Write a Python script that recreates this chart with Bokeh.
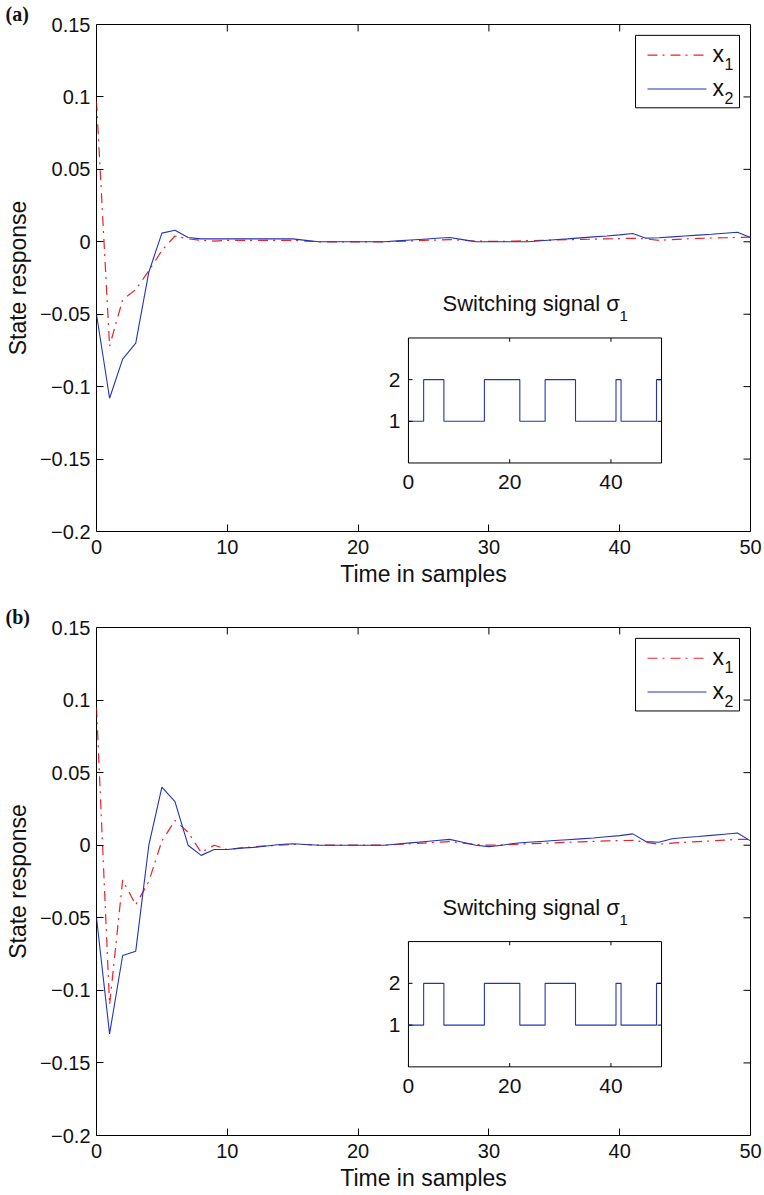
import numpy as np
from bokeh.plotting import figure
from bokeh.models import Range1d, FixedTicker
from bokeh.layouts import column
from bokeh.embed import file_html
from bokeh.resources import INLINE
from bokeh.core.properties import value

# ---------------- data ----------------
t = list(range(51))

x1_a = [0.097, -0.072, -0.040, -0.033, -0.020, -0.006, 0.004, 0.002, 0.001, 0.0005,
        0.001, 0.001, 0.001, 0.001, 0.001, 0.001, 0.0005, 0.0, 0.0, 0.0,
        0.0, 0.0, 0.0, 0.0003, 0.0006, 0.001, 0.0012, 0.0015, 0.001, 0.0005,
        0.0003, 0.0003, 0.0005, 0.0008, 0.001, 0.0012, 0.0014, 0.0016, 0.0018, 0.002,
        0.0022, 0.0024, 0.002, 0.001, 0.0015, 0.002, 0.0023, 0.0026, 0.0028, 0.003,
        0.0032]
x2_a = [-0.050, -0.108, -0.081, -0.070, -0.021, 0.006, 0.008, 0.003, 0.002, 0.002,
        0.002, 0.002, 0.002, 0.002, 0.002, 0.002, 0.001, 0.0, 0.0, 0.0,
        0.0, 0.0, 0.0, 0.0006, 0.0012, 0.0018, 0.0024, 0.003, 0.0015, 0.0,
        0.0, 0.0, 0.0, 0.0, 0.0007, 0.0014, 0.002, 0.0027, 0.0034, 0.004,
        0.0048, 0.0057, 0.0025, 0.0028, 0.0034, 0.004, 0.0046, 0.0052, 0.0059, 0.0066,
        0.003]

x1_b = [0.095, -0.110, -0.024, -0.041, -0.025, 0.003, 0.017, 0.009, -0.005, 0.0,
        -0.003, -0.002, -0.001, -0.0005, 0.0, 0.0005, 0.0005, 0.0, 0.0, 0.0,
        0.0, 0.0, 0.0, 0.0005, 0.001, 0.0015, 0.002, 0.0025, 0.0015, 0.0005,
        0.0, 0.0003, 0.0006, 0.001, 0.0013, 0.0016, 0.002, 0.0023, 0.0026, 0.003,
        0.0032, 0.0034, 0.002, 0.0007, 0.0015, 0.002, 0.0025, 0.003, 0.0035, 0.004,
        0.004]
x2_b = [-0.050, -0.130, -0.076, -0.073, 0.000, 0.040, 0.030, 0.000, -0.007, -0.003,
        -0.003, -0.002, -0.0015, -0.0005, 0.0005, 0.001, 0.0005, 0.0, 0.0, 0.0,
        0.0, 0.0, 0.0, 0.0008, 0.0016, 0.0024, 0.0032, 0.004, 0.002, 0.0,
        -0.001, 0.0, 0.0014, 0.002, 0.0026, 0.0032, 0.0038, 0.0044, 0.005, 0.0058,
        0.0066, 0.0078, 0.0025, 0.002, 0.0045, 0.0053, 0.006, 0.0068, 0.0076, 0.0084,
        0.003]

sigma = [1, 1, 1, 2, 2, 2, 2, 1, 1, 1,
         1, 1, 1, 1, 1, 2, 2, 2, 2, 2,
         2, 2, 1, 1, 1, 1, 1, 2, 2, 2,
         2, 2, 2, 1, 1, 1, 1, 1, 1, 1,
         1, 2, 1, 1, 1, 1, 1, 1, 1, 2,
         2]

x_ticks = [0, 10, 20, 30, 40, 50]
y_ticks = [-0.2, -0.15, -0.1, -0.05, 0, 0.05, 0.1, 0.15]
y_tick_labels = ["\u22120.2", "\u22120.15", "\u22120.1", "\u22120.05", "0", "0.05", "0.1", "0.15"]
inset_x_ticks = [0, 20, 40]
inset_x_labels = ["0", "20", "40"]
inset_y_ticks = [1, 2]
inset_y_labels = ["1", "2"]

FONT = "Liberation Sans"
RED = "#e8232a"
BLUE = "#2334b8"
DASHDOT = "10 5 2 6"
X0, X1, Y0, Y1 = 0, 50, -0.2, 0.15
FRAME_W = 654


def make_panel(tag, x1, x2, height, bottom, frame_h):
    p = figure(width=764, height=height, x_range=Range1d(X0, X1), y_range=Range1d(Y0, Y1),
               output_backend="svg", toolbar_location=None, title=tag,
               min_border_left=96, min_border_right=14, min_border_top=21, min_border_bottom=bottom,
               outline_line_color="black", outline_line_width=1, background_fill_color="white",
               border_fill_color="white")
    p.grid.visible = False

    p.title.text_font = "Liberation Serif"
    p.title.text_font_style = "bold"
    p.title.text_font_size = "20px"
    p.title.text_color = "#111111"
    p.title.align = "left"
    p.title.offset = -91
    p.title.standoff = 0

    xa = p.xaxis[0]
    xa.ticker = FixedTicker(ticks=x_ticks)
    ya = p.yaxis[0]
    ya.ticker = FixedTicker(ticks=y_ticks)
    ya.major_label_overrides = {v: s for v, s in zip(y_ticks, y_tick_labels)}
    for ax in (xa, ya):
        ax.major_tick_in = 7
        ax.major_tick_out = 0
        ax.minor_tick_line_color = None
        ax.axis_line_color = None
        ax.major_tick_line_color = "black"
        ax.major_label_text_font = FONT
        ax.major_label_text_font_size = "20px"
        ax.major_label_text_color = "#111111"
        ax.axis_label_text_font = FONT
        ax.axis_label_text_font_size = "23px"
        ax.axis_label_text_font_style = "normal"
        ax.axis_label_text_color = "#111111"
    xa.axis_label = "Time in samples"
    xa.major_label_standoff = 8
    xa.axis_label_standoff = 4
    ya.axis_label = "State response"
    ya.major_label_standoff = 6
    ya.axis_label_standoff = 6

    # ticks on the right and top edges of the box (MATLAB "box on")
    tx = 7 * (X1 - X0) / FRAME_W
    ty = 7 * (Y1 - Y0) / frame_h
    p.segment(x0=[X1] * len(y_ticks), y0=y_ticks, x1=[X1 - tx] * len(y_ticks), y1=y_ticks,
              line_color="black", line_width=1)
    p.segment(x0=x_ticks, y0=[Y1] * len(x_ticks), x1=x_ticks, y1=[Y1 - ty] * len(x_ticks),
              line_color="black", line_width=1)

    p.line(t, x1, line_color=RED, line_width=1.2, line_dash=DASHDOT)
    p.line(t, x2, line_color=BLUE, line_width=1.1)

    # ---- inset: switching signal ----
    sub = p.subplot(x_source=Range1d(0, 50), y_source=Range1d(0, 3),
                    x_target=Range1d(23.85, 43.2), y_target=Range1d(-0.1527, -0.0664))
    sub.quad(left=[0], right=[50], bottom=[0], top=[3], fill_color="white",
             line_color="black", line_width=1)
    sub.step(t, sigma, mode="after", line_color=BLUE, line_width=1.1)
    sub.segment(x0=inset_x_ticks, y0=[0] * 3, x1=inset_x_ticks, y1=[0.09] * 3, line_color="black")
    sub.segment(x0=inset_x_ticks, y0=[3] * 3, x1=inset_x_ticks, y1=[2.91] * 3, line_color="black")
    sub.segment(x0=[0, 0], y0=inset_y_ticks, x1=[0.8, 0.8], y1=inset_y_ticks, line_color="black")
    sub.segment(x0=[50, 50], y0=inset_y_ticks, x1=[49.2, 49.2], y1=inset_y_ticks, line_color="black")
    sub.text(x=inset_x_ticks, y=[0] * 3, text=inset_x_labels, text_align="center",
             text_baseline="middle", y_offset=19, text_font=value(FONT),
             text_font_size="21px", text_color="#111111")
    sub.text(x=[0, 0], y=inset_y_ticks, text=inset_y_labels, text_align="right",
             text_baseline="middle", x_offset=-8, text_font=value(FONT),
             text_font_size="21px", text_color="#111111")
    sub.text(x=[0], y=[3], text=["Switching signal \u03c3"], text_align="left",
             text_baseline="middle", x_offset=34, y_offset=-34, text_font=value(FONT),
             text_font_size="22px", text_color="#111111")
    sub.text(x=[0], y=[3], text=["1"], text_align="left",
             text_baseline="middle", x_offset=211, y_offset=-22, text_font=value(FONT),
             text_font_size="15px", text_color="#111111")

    # ---- legend ----
    lg = p.subplot(x_source=Range1d(0, 104), y_source=Range1d(0, 73),
                   x_target=Range1d(41.21, 49.16), y_target=Range1d(0.0925, 0.1425))
    lg.quad(left=[0], right=[104], bottom=[0], top=[73], fill_color="white",
            line_color="black", line_width=1)
    lg.line([12, 71], [53, 53], line_color=RED, line_width=1.2, line_dash=DASHDOT)
    lg.line([12, 71], [19, 19], line_color=BLUE, line_width=1.1)
    lg.text(x=[77, 77], y=[53, 19], text=["x", "x"], text_align="left", text_baseline="middle",
            y_offset=-1, text_font=value(FONT), text_font_size="23px", text_color="#111111")
    lg.text(x=[89, 89], y=[53, 19], text=["1", "2"], text_align="left", text_baseline="middle",
            y_offset=9, text_font=value(FONT), text_font_size="16px", text_color="#111111")
    return p


pa = make_panel("(a)", x1_a, x2_a, 603, 72, 510)
pb = make_panel("(b)", x1_b, x2_b, 592, 60, 511)
layout = column(pa, pb, spacing=0)

open("out.html", "w").write(file_html(layout, INLINE))
